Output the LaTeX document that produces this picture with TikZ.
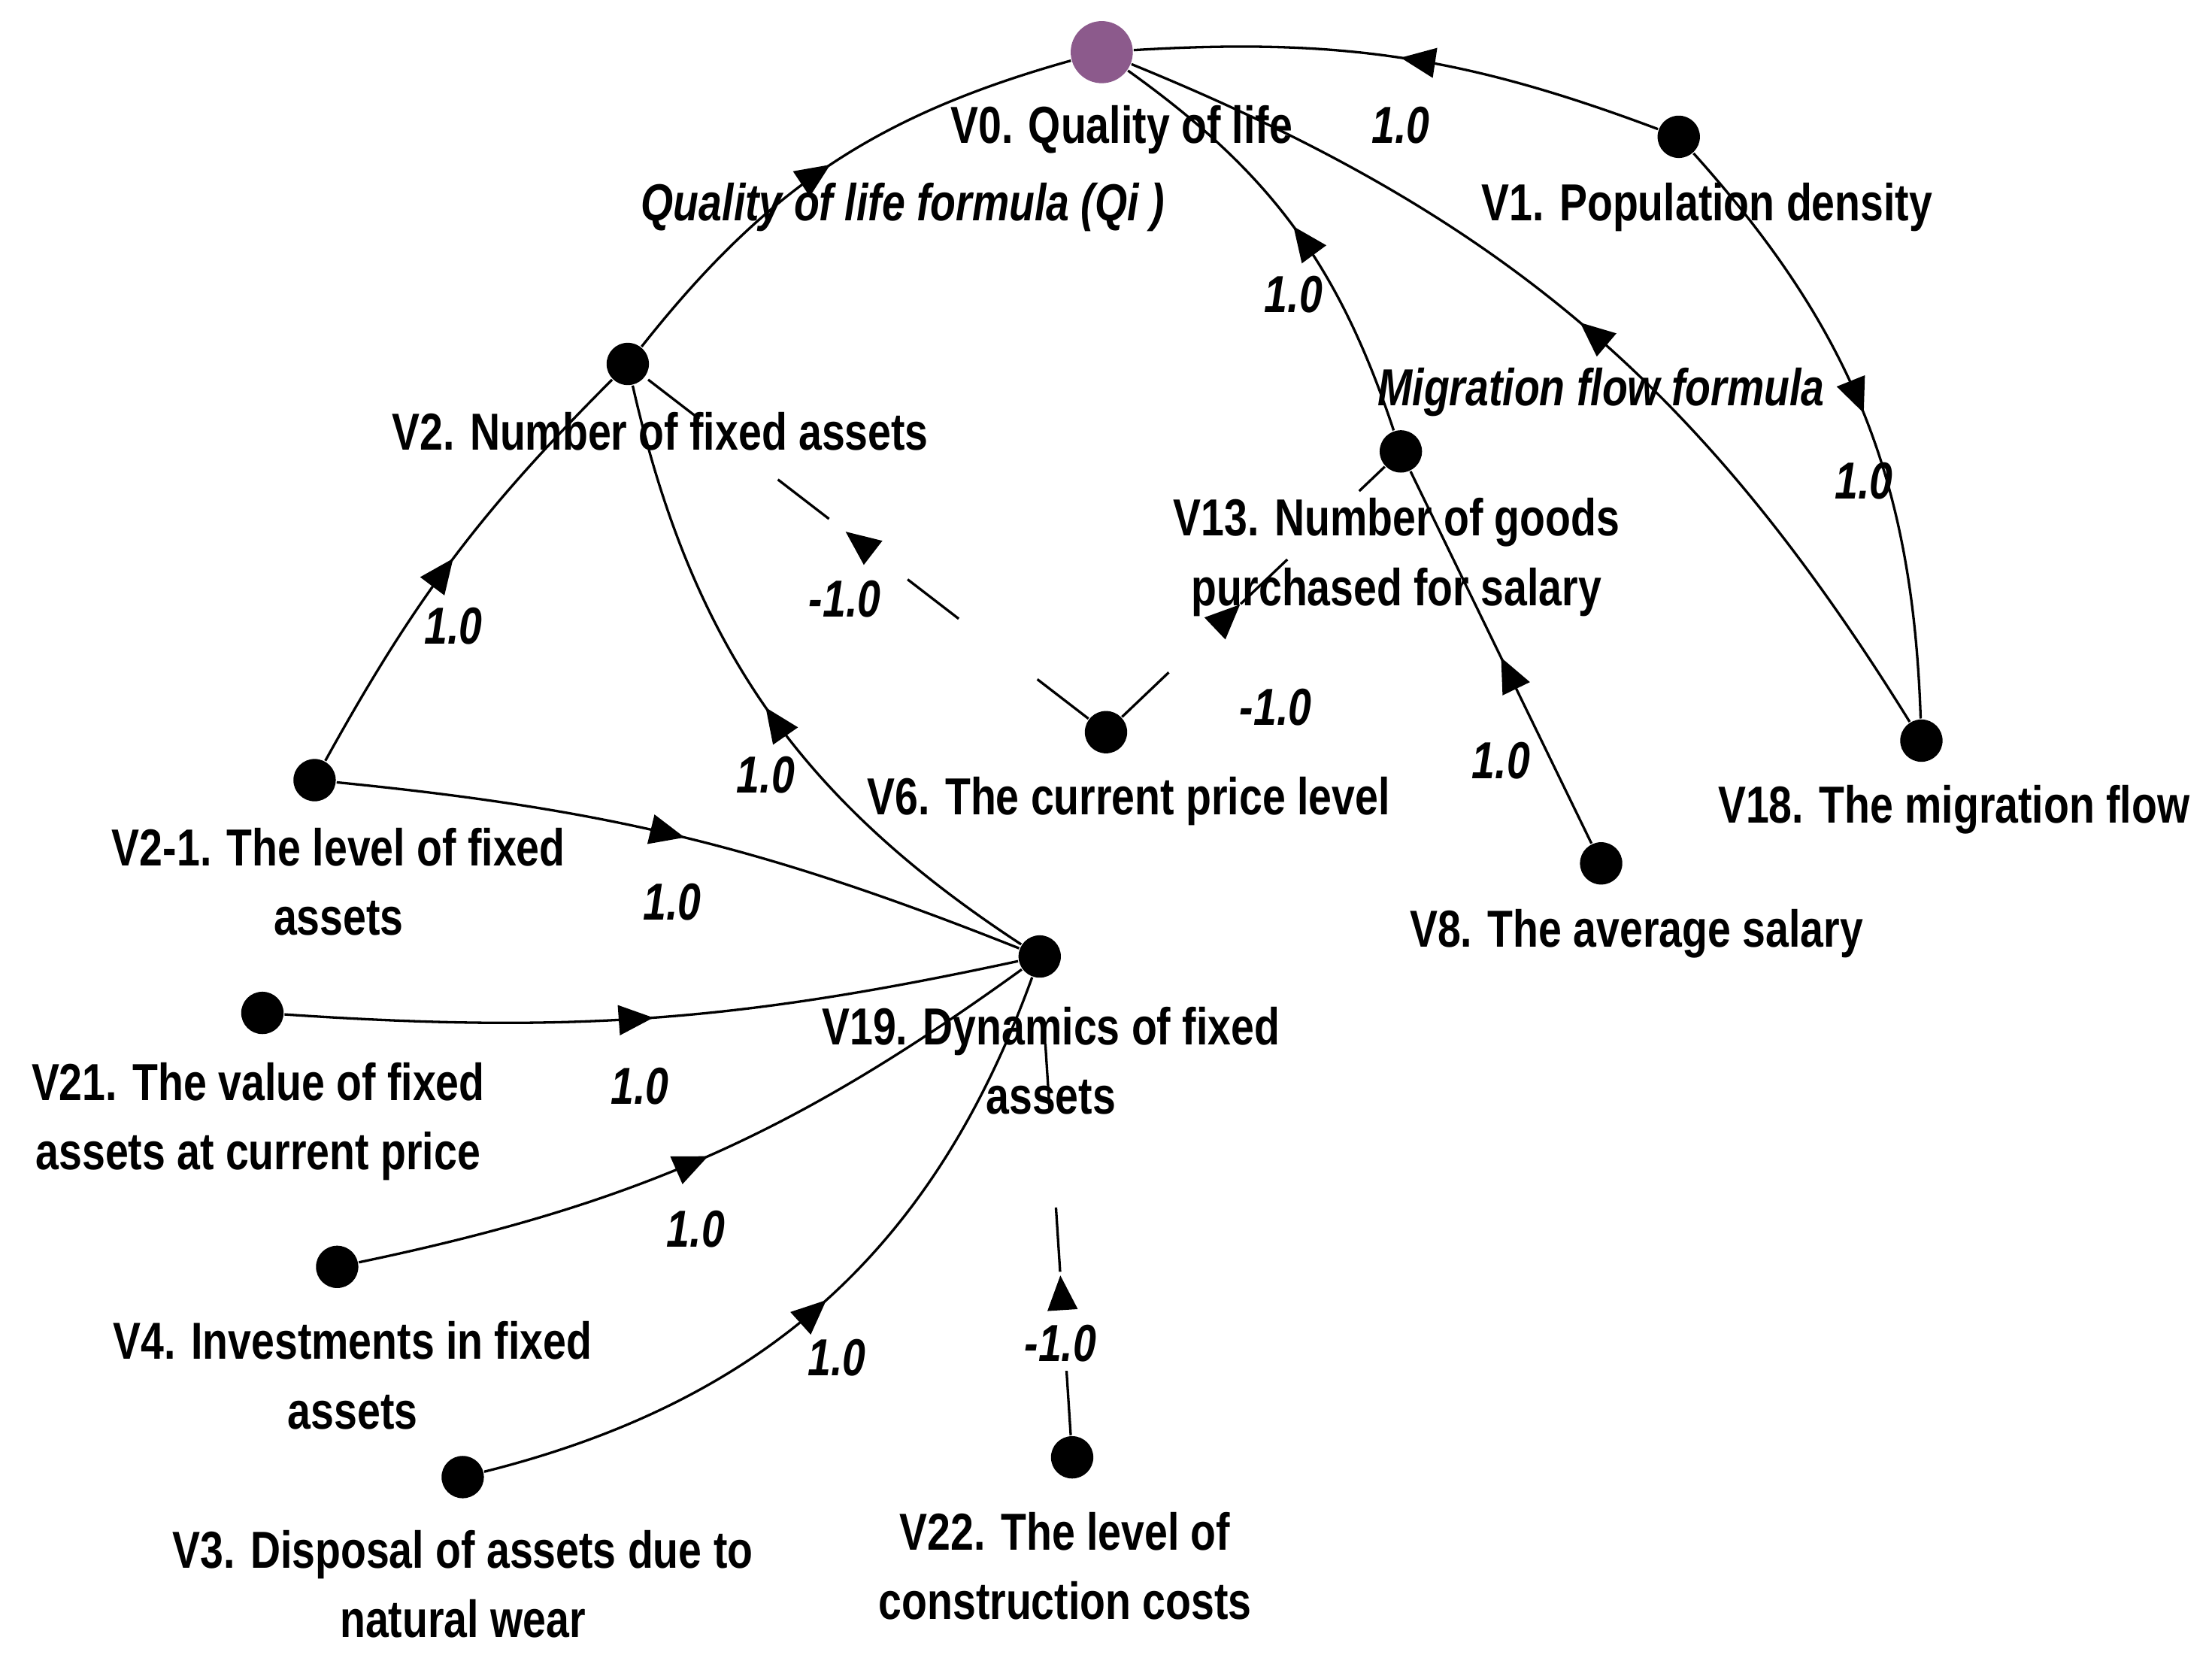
\documentclass[tikz,border=0pt]{standalone}
\usepackage{fontspec}
\setmainfont{Liberation Sans}[FakeStretch=0.8]
\usetikzlibrary{decorations.markings,arrows.meta}
\begin{document}
\begin{tikzpicture}[x=0.01cm,y=0.01cm,
  dot/.style={circle,fill=black,inner sep=0pt,minimum size=0.3cm},
  lab/.style={font=\fontsize{10.5}{14}\selectfont\bfseries,align=center,inner sep=0pt},
  wl/.style={font=\fontsize{10.5}{13}\selectfont\bfseries\itshape,inner sep=0pt},
  el/.style={wl,yshift=-0.48cm},
  e/.style={line width=0.5pt,postaction={decorate,solid},decoration={markings,mark=at position #1 with {\arrow{Triangle[length=7pt,width=6pt]}}}},
  e/.default=0.5,
  dsh/.style={e=#1,dash pattern=on 13pt off 20pt},
  dsh/.default=0.5]
\useasboundingbox (0,0) rectangle (1568,1177);
\node[circle,fill={rgb,255:red,140;green,90;blue,140},inner sep=0pt,minimum size=0.44cm] (v0) at (781,1140) {};
\node[dot] (v1) at (1190,1080) {};
\node[dot] (v2) at (445,919) {};
\node[dot] (v13) at (993,857) {};
\node[dot] (v18) at (1362,652) {};
\node[dot] (v6) at (784,658) {};
\node[dot] (v8) at (1135,565) {};
\node[dot] (v21a) at (223,624) {};
\node[dot] (v19) at (737,499) {};
\node[dot] (v21) at (186,459) {};
\node[dot] (v4) at (239,279) {};
\node[dot] (v3) at (328,130) {};
\node[dot] (v22) at (760,144) {};

\node[lab] (t0) at (795,1085) {V0. Quality of life};
\node[lab] (t1) at (1210,1030) {V1. Population density};
\node[lab] (t2) at (468,871) {V2. Number of fixed assets};
\node[lab] (t13) at (990,782) {V13. Number of goods\\purchased for salary};
\node[lab] (t18) at (1385,603) {V18. The migration flow};
\node[lab] (t6) at (800,609) {V6. The current price level};
\node[lab] (t8) at (1160,515) {V8. The average salary};
\node[lab] (t21a) at (240,552) {V2-1. The level of fixed\\assets};
\node[lab] (t19) at (745,425) {V19. Dynamics of  fixed\\assets};
\node[lab] (t21) at (183,382) {V21. The value of  fixed\\assets at current price};
\node[lab] (t4) at (250,202) {V4. Investments in fixed\\assets};
\node[lab] (t3) at (328,54) {V3. Disposal of  assets due to\\natural wear};
\node[lab] (t22) at (755,67) {V22. The level of\\construction costs};
\node[wl] (fq) at (640,1030) {Quality of life formula (Qi )};
\node[wl] (fm) at (1135,899) {Migration flow formula};

\draw[e] (v1) to[bend right=12] node[el,pos=0.5] {1.0} (v0);
\draw[e] (v2) to[bend left=18] (v0);
\draw[e] (v21a) to[bend left=8] node[el,pos=0.5] {1.0} (v2);
\draw[e] (v19) to[bend left=22] node[el,pos=0.5] {1.0} (v2);
\draw[e] (v13) to[bend right=18] node[el,pos=0.5] {1.0} (v0);
\draw[e] (v18) to[bend right=18] (v0);
\draw[e] (v1) to[bend left=20] node[el,pos=0.5] {1.0} (v18);
\draw[e] (v8) -- node[el,pos=0.5,yshift=-0.25cm] {1.0} (v13);
\draw[dsh=0.55] (v6) -- node[el,pos=0.55] {-1.0} (v2);
\draw[dsh=0.45] (v6) -- node[el,pos=0.45,xshift=0.25cm,yshift=-0.25cm] {-1.0} (v13);
\draw[dsh=0.35] (v22) -- node[el,pos=0.35] {-1.0} (v19);
\draw[e] (v21a) to[bend left=8] node[el,pos=0.48] {1.0} (v19);
\draw[e] (v21) to[bend right=8] node[el,pos=0.48] {1.0} (v19);
\draw[e] (v4) to[bend right=12] node[el,pos=0.48] {1.0} (v19);
\draw[e] (v3) to[bend right=28] node[el,pos=0.52] {1.0} (v19);
\end{tikzpicture}
\end{document}
